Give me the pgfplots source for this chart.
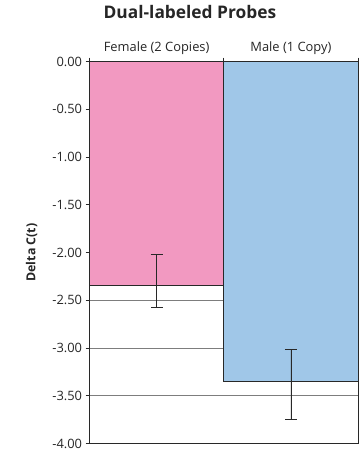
\documentclass[border=0pt]{standalone}
\usepackage{pgfplots}
\pgfplotsset{compat=1.18}
\usepackage{fontspec}
\setmainfont{Open Sans}
\definecolor{pinkbar}{RGB}{242,153,193}
\definecolor{bluebar}{RGB}{160,199,232}
\definecolor{gridgrey}{RGB}{125,125,125}
\definecolor{framec}{RGB}{40,40,40}
\begin{document}
\begin{tikzpicture}
\useasboundingbox (-90bp,-8.5bp) rectangle (273bp,446bp);
\begin{axis}[
  scale only axis,
  width=270bp, height=384bp,
  at={(0,0)}, anchor=south west,
  xmin=-0.5, xmax=1.5, ymin=-4, ymax=0,
  xtick={-0.5,0.5,1.5},
  xticklabels={Female (2 Copies),Male (1 Copy)},
  x tick label as interval,
  xtick pos=upper, xticklabel pos=upper,
  ytick={-4,-3.5,...,0},
  ytick pos=left,
  tick align=outside,
  major tick length=4bp,
  ymajorgrids,
  grid style={gridgrey, line width=1.1bp},
  axis line style={framec, line width=0.9bp},
  tick style={framec, line width=0.8bp},
  /pgf/number format/assume math mode=true,
  yticklabel style={/pgf/number format/fixed, /pgf/number format/fixed zerofill, /pgf/number format/precision=2, font=\fontsize{13}{15}\selectfont, text=black!85, inner ysep=1bp},
  xticklabel style={font=\fontsize{13}{15}\selectfont, text=black!85},
  ylabel={Delta C(t)},
  ylabel style={at={(axis description cs:-0.215,0.5)}, anchor=center, font=\bfseries\fontsize{12.5}{14}\selectfont, text=black!85},
  ybar, bar width=1, bar shift=0pt,
  clip=false,
]
\addplot[fill=pinkbar, draw=framec, line width=0.7bp,
  error bars/.cd, y dir=both, y explicit,
  error bar style={framec, line width=0.7bp},
  error mark options={rotate=90, mark size=6bp, framec, line width=0.7bp}]
  coordinates {(0,-2.34) += (0,0.32) -= (0,0.23)};
\addplot[fill=bluebar, draw=framec, line width=0.7bp,
  error bars/.cd, y dir=both, y explicit,
  error bar style={framec, line width=0.7bp},
  error mark options={rotate=90, mark size=6bp, framec, line width=0.7bp}]
  coordinates {(1,-3.35) += (0,0.34) -= (0,0.40)};
\node[anchor=base, font=\bfseries\fontsize{17.5}{20}\selectfont, text=black!85] at (rel axis cs:0.374,1.113) {Dual-labeled Probes};
\end{axis}
\end{tikzpicture}
\end{document}
